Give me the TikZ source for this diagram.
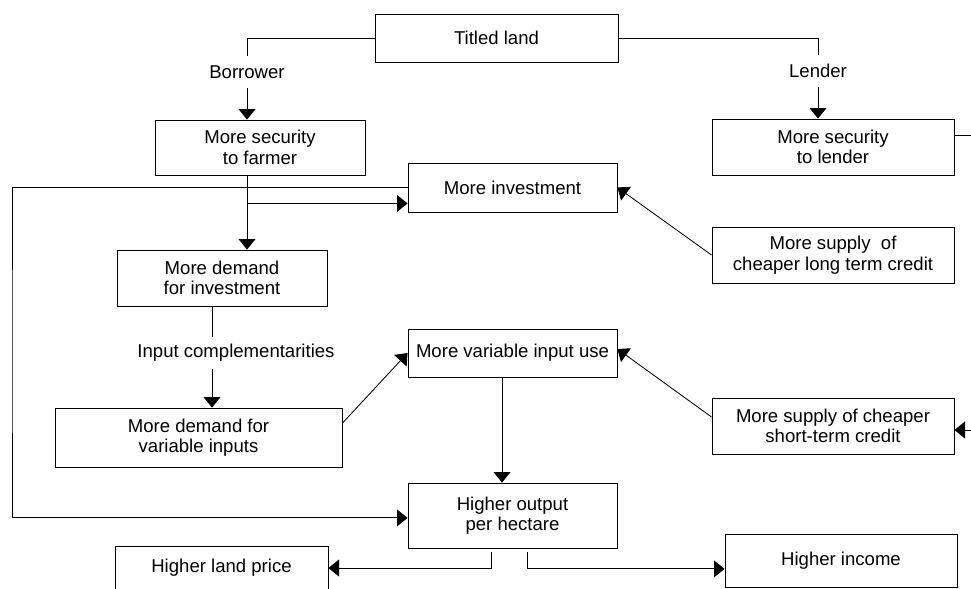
\documentclass[tikz,border=0pt]{standalone}
\usepackage{fontspec}
\setmainfont{Liberation Sans}
\usetikzlibrary{arrows.meta}

\begin{document}
\begin{tikzpicture}[x=0.025cm,y=-0.025cm,line width=0.6pt,font=\fontsize{13.2}{14.6}\selectfont]
  \tikzstyle{box}=[draw,rectangle,align=center,inner sep=0pt]
  \tikzstyle{lbl}=[inner sep=0pt,minimum height=0.8cm]
  \tikzstyle{arr}=[-{Triangle[length=7.5pt,width=12pt]}]
  \useasboundingbox (0,0) rectangle (971,588);

  \node[box,minimum width=6.075cm,minimum height=1.2cm] (titled) at (496.5,38) {Titled land};

  \node[lbl] (borrower) at (247,72) {Borrower};
  \node[lbl] (lender) at (818,71) {Lender};
  \draw (titled.west) -| (borrower.north);
  \draw (titled.east) -| (lender.north);

  \node[box,minimum width=5.25cm,minimum height=1.375cm] (secfarm) at (260,147.5) {More security\\to farmer};
  \draw[arr] (borrower.south) -- (borrower |- secfarm.north);

  \node[box,minimum width=6.05cm,minimum height=1.4cm] (seclend) at (833,147) {More security\\to lender};
  \draw[arr] (lender.south) -- (lender |- seclend.north);

  \node[box,minimum width=5.225cm,minimum height=1.225cm] (invest) at (512.5,187.5) {More investment};

  \node[box,minimum width=5.25cm,minimum height=1.4cm] (demandinv) at (222,278) {More demand\\for investment};
  \draw[arr] (borrower |- secfarm.south) -- (borrower |- demandinv.north);
  \coordinate (invin) at ([yshift=0.225cm]invest.south west);
  \draw[arr] (borrower |- invin) -- (invin);

  \node[box,minimum width=6.05cm,minimum height=1.4cm] (longcred) at (833,255) {More supply\ \ of\\cheaper long term credit};
  \draw[arr] (longcred.west) -- (invest.east);

  \node[lbl] (compl) at (236,353) {Input complementarities};
  \coordinate (cx) at (212,0);
  \node[box,minimum width=7.175cm,minimum height=1.475cm] (demandvar) at (198.5,437.5) {More demand for\\variable inputs};
  \draw (cx |- demandinv.south) -- (cx |- compl.north);
  \draw[arr] (cx |- compl.south) -- (cx |- demandvar.north);

  \node[box,minimum width=5.225cm,minimum height=1.2cm] (varuse) at (512.5,353) {More variable input use};
  \draw[arr] ([yshift=0.36cm]demandvar.east) -- (varuse.west);

  \node[box,minimum width=6.05cm,minimum height=1.4cm] (shortcred) at (833,426) {More supply of cheaper\\short-term credit};
  \draw[arr] ([yshift=0.225cm]shortcred.west) -- ([yshift=0.1cm]varuse.east);
  \coordinate (edge) at (985,300);
  \draw[arr] ([yshift=0.3cm]seclend.east) -| (edge) |- ([yshift=-0.1cm]shortcred.east);

  \node[box,minimum width=5.225cm,minimum height=1.625cm] (output) at (512.5,515.5) {Higher output\\per hectare};
  \coordinate (vx) at (502,0);
  \draw[arr] (vx |- varuse.south) -- (vx |- output.north);
  \coordinate (loop) at (12,350);
  \draw[arr] (invest.west) -| (loop) |- ([yshift=-0.06cm]output.west);

  \node[box,minimum width=5.325cm,minimum height=1.1cm] (landprice) at (221.5,568) {Higher land price};
  \node[box,minimum width=5.8cm,minimum height=1.325cm] (income) at (841,560.5) {Higher income};
  \coordinate (lo) at (491,552);
  \coordinate (ro) at (527,552);
  \draw[arr] (lo) |- (landprice.east);
  \draw[arr] (ro) |- ([yshift=-0.21cm]income.west);
\end{tikzpicture}
\end{document}
